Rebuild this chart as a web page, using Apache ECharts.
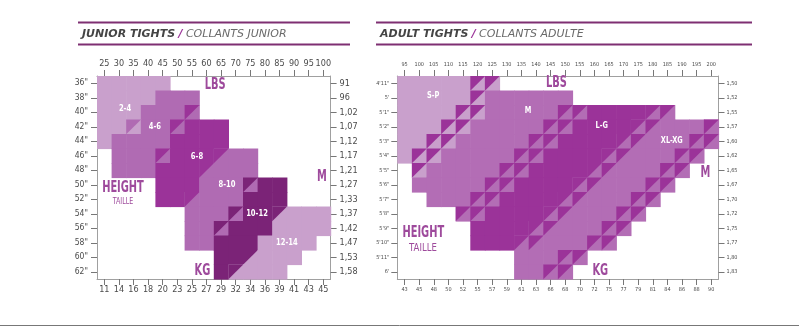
<!DOCTYPE html>
<html><head><meta charset="utf-8">
<script src="https://cdn.jsdelivr.net/npm/echarts@6/dist/echarts.min.js"></script>
<style>html,body{margin:0;padding:0;background:#fff}#c{width:799px;height:329px}</style>
</head><body><div id="c"></div><script>
// ---------- DATA ----------
const juniorLbs = ['25','30','35','40','45','50','55','60','65','70','75','80','85','90','95','100'];
const juniorKg = ['11','14','16','18','20','23','25','27','29','32','34','36','39','41','43','45'];
const juniorHeightIn = ['36"','38"','40"','42"','44"','46"','48"','50"','52"','54"','56"','58"','60"','62"'];
const juniorHeightM = ['91','96','1,02','1,07','1,12','1,17','1,21','1,27','1,33','1,37','1,42','1,47','1,53','1,58'];
// size codes per cell: A=2-4 B=4-6 C=6-8 D=8-10 E=10-12 F=12-14, two letters = shared (diagonal) cell
const juniorRows = [
 'A A A A A . . . . . . . . . . .',
 'A A A A B B B . . . . . . . . .',
 'A A A B B B BC . . . . . . . . .',
 'A A AB B B BC C C C . . . . . . .',
 'A B B B B C C C C . . . . . . .',
 '. B B B BC C C C CD D D . . . . .',
 '. B B B C C C CD D D D . . . . .',
 '. . . . C C C D D D DE E E . . .',
 '. . . . C C CD D D D E E E . . .',
 '. . . . . . D D D DE E E EF F F F',
 '. . . . . . D D DE E E E F F F F',
 '. . . . . . D D E E E F F F F .',
 '. . . . . . . . E E EF F F F . .',
 '. . . . . . . . E EF F F F . . .'
];
const juniorSizeNames = ['2-4','4-6','6-8','8-10','10-12','12-14'];

const adultLbs = ['95','100','105','110','115','120','125','130','135','140','145','150','155','160','165','170','175','180','185','190','195','200'];
const adultKg = ['43','45','48','50','52','55','57','59','61','63','66','68','70','72','75','77','79','81','84','86','88','90'];
const adultHeightFt = ['4\'11"','5\'','5\'1"','5\'2"','5\'3"','5\'4"','5\'5"','5\'6"','5\'7"','5\'8"','5\'9"','5\'10"','5\'11"','6\''];
const adultHeightM = ['1,50','1,52','1,55','1,57','1,60','1,62','1,65','1,67','1,70','1,72','1,75','1,77','1,80','1,83'];
// P=S-P M=M L=L-G X=XL-XG ; two letters = shared cell (PM, ML, LX, XZ = outer edge)
const adultRows = [
 'P P P P P PM PM . . . . . . . . . . . . . . .',
 'P P P P P PM M M M M M M . . . . . . . . . .',
 'P P P P PM PM M M M M M ML ML L L L L LX LX . . .',
 'P P P PM PM M M M M M ML ML L L L L LX LX X X X XZ',
 'P P PM PM M M M M M ML ML L L L L LX LX X X X XZ XZ',
 'P PM PM M M M M M ML ML L L L L LX LX X X X XZ XZ .',
 '. PM M M M M M ML ML L L L L LX LX X X X XZ XZ . .',
 '. M M M M M ML ML L L L L LX LX X X X XZ XZ . . .',
 '. . M M M ML ML L L L L LX LX X X X XZ XZ . . . .',
 '. . . . ML ML L L L L LX LX X X X XZ XZ . . . . .',
 '. . . . . L L L L LX LX X X X XZ XZ . . . . . .',
 '. . . . . L L L LX LX X X X XZ XZ . . . . . . .',
 '. . . . . . . . X X X XZ XZ . . . . . . . . .',
 '. . . . . . . . X X XZ XZ . . . . . . . . . .'
];
const adultSizeNames = ['S-P','M','L-G','XL-XG'];

// ---------- STYLES ----------
const FONT = "'DejaVu Sans Condensed','Liberation Sans Narrow','DejaVu Sans',sans-serif";
const juniorColors = {A:'#c9a0cc',B:'#b06bb3',C:'#9b3399',D:'#b06bb3',E:'#7b2377',F:'#c9a0cc'};
const juniorShared = {AB:['#b06bb3','#c9a0cc'],BC:['#9b3399','#b06bb3'],CD:['#9b3399','#b06bb3'],DE:['#7b2377','#b06bb3'],EF:['#7b2377','#c9a0cc']};
const adultColors = {P:'#c9a0cc',M:'#b36db5',L:'#9b3399',X:'#b36db5'};
const adultShared = {PM:['#9b3399','#c9a0cc'],ML:['#9b3399','#b36db5'],LX:['#9b3399','#b36db5'],XZ:['#9b3399','#b36db5']};
const purple = '#9e4a9c';

function buildCells(rows){
  const data=[], toks=[];
  rows.forEach((r,ri)=>r.split(' ').forEach((t,ci)=>{ if(t!=='.'){data.push([ci,ri]);toks.push(t);} }));
  return {data,toks};
}
function cellSeries(rows, solid, shared, xi, yi){
  const b = buildCells(rows);
  return {type:'custom',coordinateSystem:'cartesian2d',xAxisIndex:xi,yAxisIndex:yi,clip:false,silent:true,
    data:b.data,
    renderItem:function(params, api){
      const c = api.coord([api.value(0), api.value(1)]);
      const s = api.size([1,1]);
      const x0=c[0]-s[0]/2, y0=c[1]-s[1]/2, x1=x0+s[0], y1=y0+s[1];
      const t = b.toks[params.dataIndex];
      if (solid[t]) return {type:'rect',shape:{x:x0,y:y0,width:s[0]+0.6,height:s[1]+0.6},style:{fill:solid[t]}};
      const cc = shared[t];
      return {type:'group',children:[
        {type:'rect',shape:{x:x0,y:y0,width:s[0]+0.6,height:s[1]+0.6},style:{fill:cc[1]}},
        {type:'polygon',shape:{points:[[x0,y0],[x1+0.3,y0],[x0,y1+0.3]]},style:{fill:cc[0]}}
      ]};
    }};
}
// annotation text styles
const textStyles = {
  size:{s:{fill:'#fff',fontSize:9,fontWeight:'bold',fontFamily:FONT},k:0.84},
  sizeA:{s:{fill:'#fff',fontSize:8,fontWeight:'bold',fontFamily:FONT},k:0.92},
  axis:{s:{fill:purple,fontSize:15,fontWeight:'bold',fontFamily:FONT},k:0.73},
  taille:{s:{fill:purple,fontSize:8,fontFamily:FONT},k:0.88},
  tailleA:{s:{fill:purple,fontSize:10,fontFamily:FONT},k:0.95}
};
// annotation positions in grid cell units (from top-left corner of the grid)
const juniorNotes = [
  [juniorSizeNames[0],1.92,2.28,'size'],[juniorSizeNames[1],3.97,3.52,'size'],[juniorSizeNames[2],6.85,5.59,'size'],
  [juniorSizeNames[3],8.9,7.52,'size'],[juniorSizeNames[4],10.96,9.52,'size'],[juniorSizeNames[5],13.0,11.52,'size'],
  ['LBS',8.1,0.62,'axis'],['M',15.4,6.97,'axis'],['HEIGHT',1.78,7.7,'axis'],['TAILLE',1.78,8.69,'taille'],['KG',7.22,13.45,'axis']
];
const adultNotes = [
  [adultSizeNames[0],2.45,1.38,'sizeA'],[adultSizeNames[1],8.95,2.41,'sizeA'],[adultSizeNames[2],14.0,3.45,'sizeA'],[adultSizeNames[3],18.8,4.48,'sizeA'],
  ['LBS',10.9,0.48,'axis'],['M',21.1,6.69,'axis'],['HEIGHT',1.78,10.85,'axis'],['TAILLE',1.76,11.86,'tailleA'],['KG',13.9,13.45,'axis']
];
function noteSeries(notes, xi, yi){
  return {type:'custom',coordinateSystem:'cartesian2d',xAxisIndex:xi,yAxisIndex:yi,clip:false,silent:true,z:5,
    data:notes.map(()=>[0,0]),
    renderItem:function(params, api){
      const n = notes[params.dataIndex];
      const c = api.coord([0,0]); const s = api.size([1,1]);
      const x = c[0]-s[0]/2 + n[1]*s[0], y = c[1]-s[1]/2 + n[2]*s[1];
      const ts = textStyles[n[3]];
      return {type:'text',x:x,y:y,scaleX:ts.k,style:Object.assign({text:n[0],align:'center',verticalAlign:'middle'},ts.s)};
    }};
}

function catAxis(grid, pos, data, fs, margin, inverse){
  return {type:'category',gridIndex:grid,position:pos,data:data,inverse:!!inverse,boundaryGap:true,
    axisLine:{show:true,onZero:false,lineStyle:{color:'#a0a0a0',width:1}},
    axisTick:{show:true,alignWithLabel:true,length:6,lineStyle:{color:'#777'}},
    axisLabel:{show:true,interval:0,color:'#4a4a4a',fontSize:fs,fontFamily:FONT,margin:margin},
    splitLine:{show:false}};
}

const chart = echarts.init(document.getElementById('c'),null,{renderer:'canvas'});
const HF = "'DejaVu Sans',sans-serif";
const header = (x, bold, rest, w) => ([
  {type:'line',shape:{x1:x-4,y1:22.5,x2:x-4+w,y2:22.5},style:{stroke:'#7e2f72',lineWidth:2}},
  {type:'line',shape:{x1:x-4,y1:44.5,x2:x-4+w,y2:44.5},style:{stroke:'#7e2f72',lineWidth:2}},
  {type:'text',x:x,y:34,style:{text:'{a|'+bold+'} {b|/} {c|'+rest+'}',verticalAlign:'middle',
    rich:{a:{fontFamily:HF,fontSize:11,fontWeight:'bold',fontStyle:'italic',fill:'#454545'},
          b:{fontFamily:HF,fontSize:11,fontWeight:'bold',fontStyle:'italic',fill:'#9b3399'},
          c:{fontFamily:HF,fontSize:11,fontStyle:'italic',fill:'#6a6a6a'}}}}
]);
chart.setOption({
  animation:false,
  backgroundColor:'#fff',
  grid:[{left:97,top:76,width:233.6,height:203,containLabel:false},{left:397.3,top:76,width:321.2,height:203,containLabel:false}],
  xAxis:[catAxis(0,'top',juniorLbs,9,8),catAxis(0,'bottom',juniorKg,9,6),catAxis(1,'top',adultLbs,5.5,8),catAxis(1,'bottom',adultKg,5.5,8)],
  yAxis:[catAxis(0,'left',juniorHeightIn,8.5,9,true),catAxis(0,'right',juniorHeightM,9,9,true),catAxis(1,'left',adultHeightFt,5.5,8,true),catAxis(1,'right',adultHeightM,5.5,8,true)],
  series:[
    cellSeries(juniorRows,juniorColors,juniorShared,0,0),
    noteSeries(juniorNotes,0,0),
    cellSeries(adultRows,adultColors,adultShared,2,2),
    noteSeries(adultNotes,2,2)
  ],
  graphic:[].concat(
    header(82,'JUNIOR TIGHTS','COLLANTS JUNIOR',272),
    header(380,'ADULT TIGHTS','COLLANTS ADULTE',376),
    [{type:'line',shape:{x1:0,y1:325.5,x2:799,y2:325.5},style:{stroke:'#777',lineWidth:1}}]
  )
});
</script></body></html>
